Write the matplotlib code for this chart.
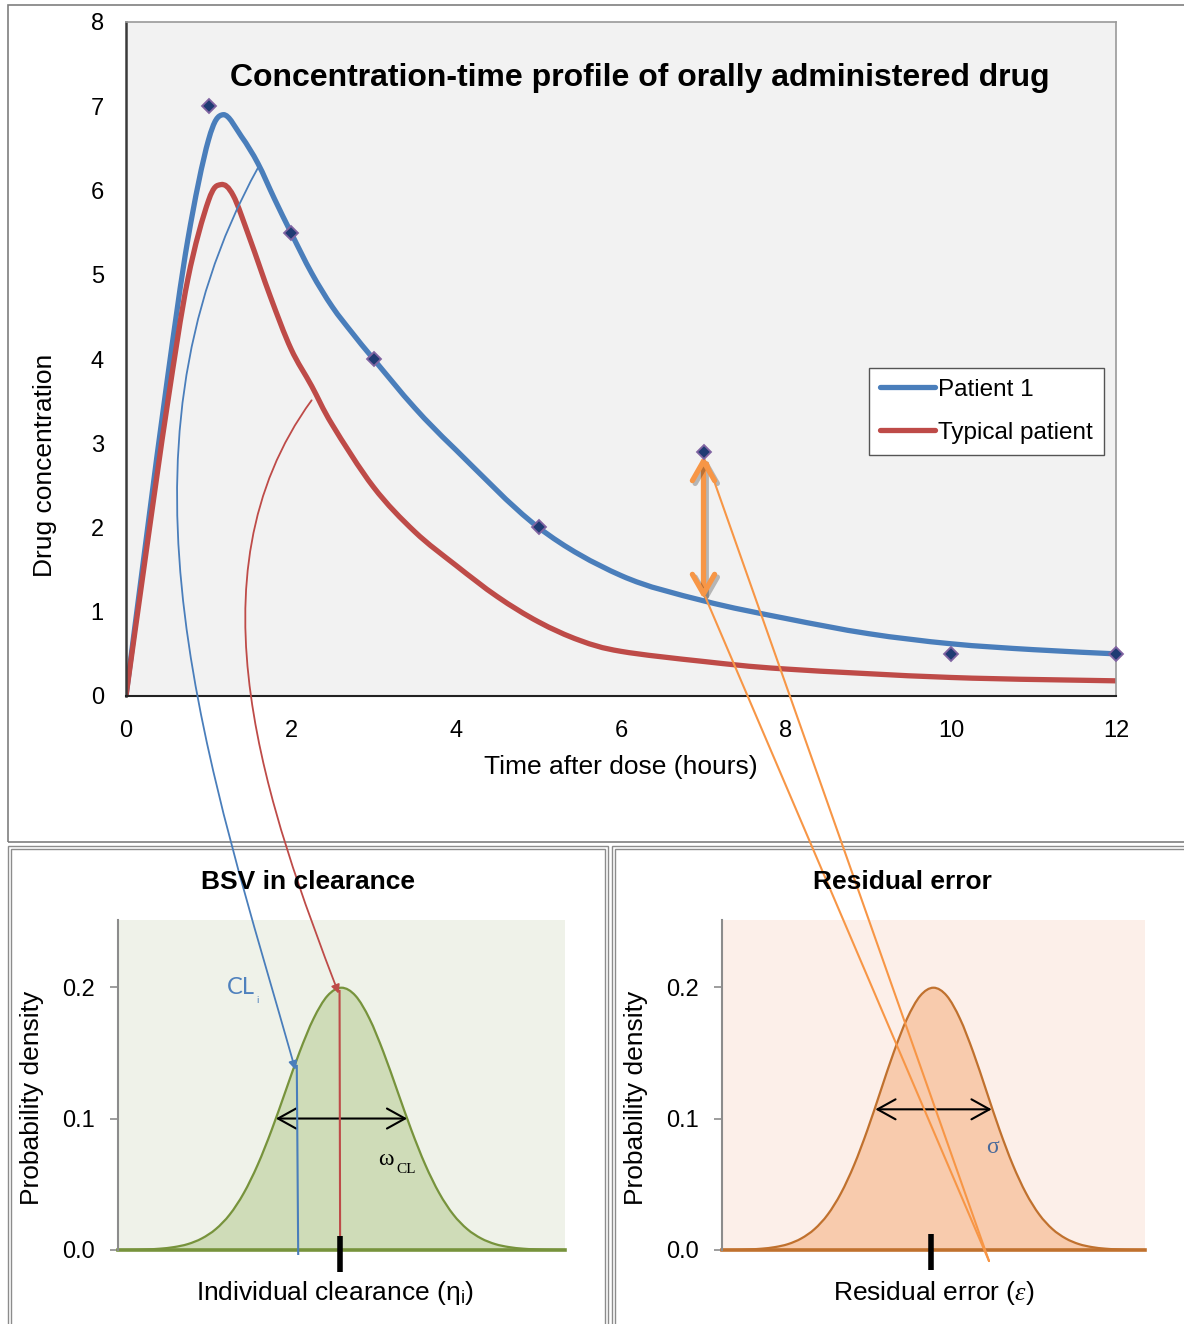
import numpy as np
import matplotlib
matplotlib.use('Agg')
import matplotlib.pyplot as plt
import matplotlib.patheffects as pe
from matplotlib.patches import Rectangle, FancyArrowPatch, ConnectionPatch, PathPatch
from matplotlib.path import Path
from matplotlib.transforms import IdentityTransform

plt.rcParams['font.family'] = ['Liberation Sans', 'DejaVu Sans']
plt.rcParams['mathtext.fontset'] = 'custom'
plt.rcParams['mathtext.rm'] = 'Liberation Sans'
plt.rcParams['mathtext.it'] = 'Liberation Serif:italic'

# observed concentrations, patient 1
obs_time = [1, 2, 3, 5, 7, 10, 12]
obs_conc = [7.0, 5.5, 4.0, 2.0, 2.9, 0.5, 0.5]

# fitted profile, patient 1
p1_time = [0, 0.25, 0.5, 0.75, 1.0, 1.18, 1.4, 1.6, 1.8, 2.0, 2.25, 2.5, 2.75,
           3.0, 3.5, 4.0, 5.0, 6.0, 7.0, 8.0, 9.0, 10, 11, 12]
p1_conc = [0, 1.9, 3.75, 5.42, 6.6, 6.9, 6.64, 6.32, 5.9, 5.5, 5.02, 4.62, 4.3,
           4.0, 3.42, 2.92, 2.0, 1.43, 1.13, 0.92, 0.74, 0.62, 0.55, 0.5]

# fitted profile, typical patient
typ_time = [0, 0.25, 0.5, 0.75, 1.0, 1.15, 1.3, 1.5, 1.75, 2.0, 2.25, 2.5, 3.0,
            3.5, 4.0, 4.5, 5.0, 5.5, 6.0, 7.0, 8.0, 10.0, 12.0]
typ_conc = [0, 1.75, 3.45, 4.95, 5.88, 6.07, 5.94, 5.43, 4.74, 4.12, 3.68, 3.22, 2.48,
            1.95, 1.55, 1.18, 0.88, 0.66, 0.53, 0.41, 0.32, 0.22, 0.18]

# probability density of the two bell curves
eta = np.arange(-8, 8.01, 0.5)
dens = [0.0, 0.0001, 0.0004, 0.0010, 0.0022, 0.0045, 0.0088, 0.0159, 0.0270,
        0.0432, 0.0648, 0.0913, 0.1210, 0.1506, 0.1760, 0.1934, 0.1995,
        0.1934, 0.1760, 0.1506, 0.1210, 0.0913, 0.0648, 0.0432, 0.0270,
        0.0159, 0.0088, 0.0045, 0.0022, 0.0010, 0.0004, 0.0001, 0.0]

W, H = 1184, 1324
fig = plt.figure(figsize=(W / 100, H / 100), dpi=100)

BLUE = '#4a7ebb'
RED = '#be4b48'
ORANGE = '#f79646'


def frac(x0, y0, x1, y1):
    return [x0 / W, 1 - y1 / H, (x1 - x0) / W, (y1 - y0) / H]


def smooth(x, y):
    # Excel-style smoothed line: Bezier segments through the given points
    pts = np.column_stack([x, y]).astype(float)
    verts, codes = [pts[0]], [Path.MOVETO]
    n = len(pts)
    for i in range(n - 1):
        p0 = pts[i - 1] if i > 0 else pts[i]
        p1, p2 = pts[i], pts[i + 1]
        p3 = pts[i + 2] if i + 2 < n else pts[i + 1]
        verts += [p1 + (p2 - p0) / 6, p2 - (p3 - p1) / 6, p2]
        codes += [Path.CURVE4] * 3
    return verts, codes


# ---- panel frames
fig.add_artist(Rectangle((8 / W, 1 - 842 / H), 1.0, 837 / H, transform=fig.transFigure,
                         fill=False, ec='#7f7f7f', lw=1.2))
for x0, x1 in [(8, 608), (612, 1250)]:
    for d in (0, 3):
        fig.add_artist(Rectangle(((x0 + d) / W, -0.1), (x1 - x0 - 2 * d) / W,
                                 0.1 + (1324 - 846 - d) / H, transform=fig.transFigure,
                                 fill=False, ec='#8c8c8c', lw=1.0))

# ---- top chart
ax = fig.add_axes(frac(126, 22, 1116, 696))
ax.set_facecolor('#f2f2f2')
for xs, ys, c, lab in [(p1_time, p1_conc, BLUE, 'Patient 1'),
                       (typ_time, typ_conc, RED, 'Typical patient')]:
    v, cd = smooth(xs, ys)
    ax.add_patch(PathPatch(Path(v, cd), fill=False, ec=c, lw=3.8, capstyle='round',
                           joinstyle='round'))
    ax.plot([], [], color=c, lw=3.8, label=lab, solid_capstyle='round')
ax.plot(obs_time, obs_conc, ls='none', marker='D', ms=7, mfc='#1f3b73', mec='#8064a2',
        mew=1.3, clip_on=False, zorder=5)
ax.set_xlim(0, 12)
ax.set_ylim(0, 8)
ax.set_xticks(range(0, 13, 2))
ax.set_yticks(range(0, 9))
ax.tick_params(length=0, labelsize=17)
ax.tick_params(axis='y', pad=16)
ax.tick_params(axis='x', pad=17)
ax.spines['left'].set_color('#3a3a3a')
ax.spines['left'].set_linewidth(1.8)
ax.spines['bottom'].set_color('#222222')
ax.spines['bottom'].set_linewidth(1.5)
for s in ('top', 'right'):
    ax.spines[s].set_color('#9a9a9a')
    ax.spines[s].set_linewidth(1.2)

leg = ax.legend(loc='upper left', bbox_to_anchor=((869 - 126) / 990, (696 - 368) / 674),
                fontsize=17.5, frameon=True, fancybox=False, framealpha=1,
                edgecolor='#555555', handlelength=2.25, handletextpad=0.15,
                borderpad=0.45, labelspacing=0.85, borderaxespad=0)
leg.get_frame().set_linewidth(1.0)

ax.annotate('', xy=(7, 2.85), xytext=(7, 1.15),
            arrowprops=dict(arrowstyle='<->,head_length=0.7,head_width=0.4', color=ORANGE,
                            lw=3.8, mutation_scale=20, shrinkA=0, shrinkB=0,
                            path_effects=[pe.SimpleLineShadow(offset=(2, -2), shadow_color='k', alpha=0.25),
                                          pe.Normal()]))

fig.text(640 / W, 1 - 78 / H, 'Concentration-time profile of orally administered drug',
         ha='center', va='center', fontsize=23, weight='bold')
fig.text(621 / W, 1 - 767 / H, 'Time after dose (hours)', ha='center', va='center', fontsize=19)
fig.text(45 / W, 1 - 465 / H, 'Drug concentration', ha='center', va='center',
         rotation=90, fontsize=19)


# ---- distribution panels
def dist_panel(rect, face, fill, edge):
    a = fig.add_axes(rect)
    a.set_facecolor(face)
    v, cd = smooth(eta, dens)
    a.add_patch(PathPatch(Path(v + [(-8, 0), (-8, 0)], cd + [Path.LINETO, Path.CLOSEPOLY]),
                          fc=fill, ec='none'))
    a.add_patch(PathPatch(Path(v, cd), fill=False, ec=edge, lw=1.6))
    a.axhline(0, color=edge, lw=2.6, clip_on=False)
    a.set_xlim(-8, 8)
    a.set_ylim(0, 0.251)
    a.set_xticks([])
    a.set_yticks([0, 0.1, 0.2])
    a.set_yticklabels(['0.0', '0.1', '0.2'])
    a.tick_params(axis='y', length=6, width=1.2, color='#8c8c8c', labelsize=17, pad=11)
    for s in ('top', 'right', 'bottom'):
        a.spines[s].set_visible(False)
    a.spines['left'].set_color('#8c8c8c')
    a.spines['left'].set_linewidth(1.5)
    return a


axl = dist_panel(frac(118, 920, 565, 1250), '#eff2e9', '#cfdcb8', '#77933c')
axr = dist_panel(frac(722, 920, 1145, 1250), '#fcefe9', '#f8cbad', '#c0712e')

fig.text(308 / W, 1 - 882 / H, 'BSV in clearance', ha='center', va='center',
         fontsize=19, weight='bold')
fig.text(902 / W, 1 - 882 / H, 'Residual error', ha='center', va='center',
         fontsize=19, weight='bold')
fig.text(335 / W, 1 - 1293 / H, 'Individual clearance (η$_\\mathregular{i}$)',
         ha='center', va='center', fontsize=19)
fig.text(934 / W, 1 - 1293 / H, 'Residual error ($\\varepsilon$)',
         ha='center', va='center', fontsize=19)
for xc in (32, 636):
    fig.text(xc / W, 1 - 1098 / H, 'Probability density', ha='center', va='center',
             rotation=90, fontsize=19)

dbl = dict(arrowstyle='<->,head_length=0.65,head_width=0.36', color='k', lw=1.5,
           mutation_scale=20, shrinkA=0, shrinkB=0)
axl.annotate('', xy=(-2.35, 0.1), xytext=(2.35, 0.1), arrowprops=dbl)
axr.annotate('', xy=(-2.2, 0.107), xytext=(2.2, 0.107), arrowprops=dbl)

axl.plot([-0.07, -0.07], [-0.0167, 0.0106], color='k', lw=4, clip_on=False,
         solid_capstyle='butt', zorder=6)
axr.plot([-0.08, -0.08], [-0.015, 0.012], color='k', lw=4, clip_on=False,
         solid_capstyle='butt', zorder=6)

axl.plot([-1.6, -1.55], [0.14, -0.003], color=BLUE, lw=1.5, clip_on=False, zorder=5)
axl.plot([-0.07, -0.05], [0.197, 0.011], color=RED, lw=1.5, clip_on=False, zorder=5)

axl.text(-4.1, 0.2, 'CL', color='#4f81bd', fontsize=17, family='Lato', ha='left', va='center')
axl.text(-3.05, 0.19, 'i', color='#4f81bd', fontsize=7, family='Lato', ha='left', va='center')
axl.text(1.3, 0.069, 'ω', fontsize=17, family='Liberation Serif', ha='left', va='center')
axl.text(1.95, 0.061, 'CL', fontsize=11, family='Liberation Serif', ha='left', va='center')
axr.text(2.23, 0.078, 'σ', fontsize=17, family='Liberation Serif', color='#4a6a9a',
         ha='center', va='center')


# ---- connectors between panels
def bezier_link(axa, pa, axb, pb, da, db, color):
    p0 = axa.transData.transform(pa)
    p3 = axb.transData.transform(pb)
    p1 = p0 + np.array(da)
    p2 = p3 + np.array(db)
    path = Path([p0, p1, p2, p3], [Path.MOVETO, Path.CURVE4, Path.CURVE4, Path.CURVE4])
    arr = FancyArrowPatch(path=path, arrowstyle='-|>,head_length=0.5,head_width=0.25',
                          mutation_scale=10, color=color, lw=1.3,
                          transform=IdentityTransform())
    fig.add_artist(arr)


bezier_link(ax, (1.6, 6.27), axl, (-1.65, 0.137), (-160, -290), (-85, 300), BLUE)
bezier_link(ax, (2.25, 3.51), axl, (-0.1, 0.195), (-129, -177), (-69, 181), RED)

for start in [(7.05, 2.77), (7.02, 1.18)]:
    fig.add_artist(ConnectionPatch(xyA=start, coordsA=ax.transData,
                                   xyB=(2.1, -0.0084), coordsB=axr.transData,
                                   color=ORANGE, lw=1.5))

fig.savefig('out.png', dpi=100)
